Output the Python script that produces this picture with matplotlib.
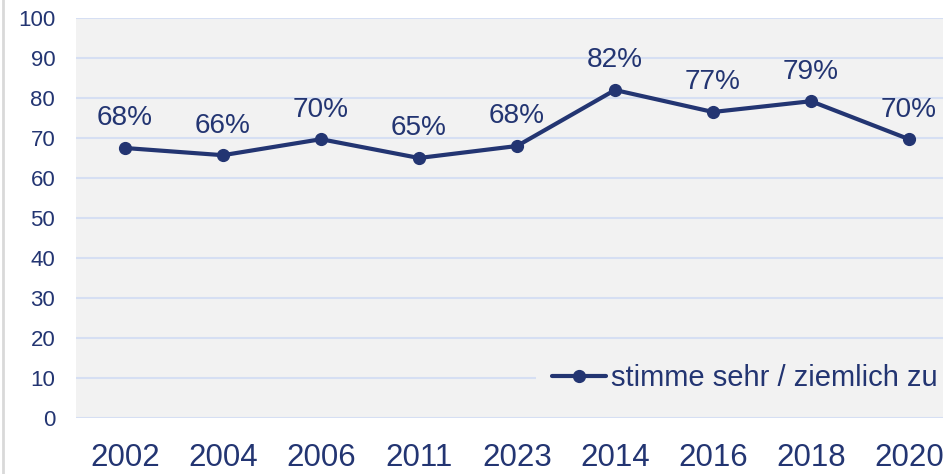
import matplotlib.pyplot as plt
from matplotlib.lines import Line2D

plt.rcParams['font.family'] = ['Liberation Sans', 'DejaVu Sans']

# data
years = ['2002', '2004', '2006', '2011', '2023', '2014', '2016', '2018', '2020']
values = [67.5, 65.7, 69.7, 65.0, 68.0, 82.0, 76.5, 79.2, 69.7]
labels = ['68%', '66%', '70%', '65%', '68%', '82%', '77%', '79%', '70%']
series_name = 'stimme sehr / ziemlich zu'

navy = '#233572'
grid_col = '#d6dff3'
bg = '#f2f2f2'

fig = plt.figure(figsize=(9.43, 4.74), dpi=100)
ax = fig.add_axes([76 / 943, 56 / 474, 882 / 943, 400 / 474])
ax.set_facecolor(bg)

x = list(range(len(years)))
ax.plot(x, values, color=navy, lw=3, marker='o', ms=8.5, label=series_name,
        solid_capstyle='round', zorder=3)
for xi, v, t in zip(x, values, labels):
    ax.annotate(t, (xi, v), xytext=(0, 12), textcoords='offset points',
                ha='center', va='bottom', fontsize=20.2, color=navy)

ax.set_xlim(-0.5, len(years) - 0.5)
ax.set_ylim(0, 100)
ax.set_yticks(range(0, 101, 10))
ax.set_xticks(x)
ax.set_xticklabels(years)
ax.yaxis.grid(True, color=grid_col, lw=1.5)
ax.set_axisbelow(True)
for s in ax.spines.values():
    s.set_visible(False)
ax.tick_params(axis='y', length=0, pad=15, labelsize=16, labelcolor=navy)
ax.tick_params(axis='x', length=0, pad=18, labelsize=22.5, labelcolor=navy)

leg = ax.legend(loc='center left', bbox_to_anchor=(536 / 943, 96 / 474),
                bbox_transform=fig.transFigure, fontsize=21, frameon=True,
                facecolor=bg, edgecolor='none', fancybox=False, framealpha=1,
                handlelength=1.85, handletextpad=0.17, borderpad=0.55, borderaxespad=0)
for t in leg.get_texts():
    t.set_color(navy)

# thin grey border on the left of the chart area
fig.add_artist(Line2D([2.5 / 943, 2.5 / 943], [0, 1], transform=fig.transFigure,
                      color='#d9d9d9', lw=2))

fig.savefig('out.png', dpi=100)
